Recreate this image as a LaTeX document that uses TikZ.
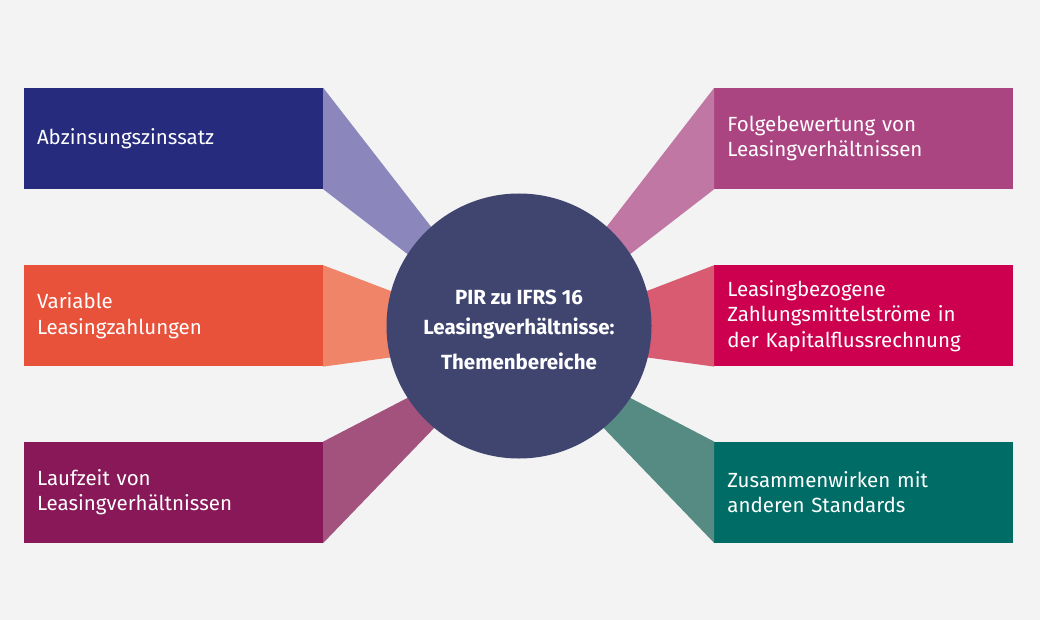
\documentclass[tikz,border=0pt]{standalone}
\usepackage{fontspec}
\setsansfont{Fira Sans}
\renewcommand{\familydefault}{\sfdefault}
\usepackage{xcolor}
\usepackage{tikz}
\usetikzlibrary{calc, positioning}

\definecolor{bggray}{RGB}{243,243,243}
\definecolor{hubblue}{RGB}{64,69,112}
\definecolor{abzdark}{RGB}{38,43,126}
\definecolor{abzlight}{RGB}{139,135,189}
\definecolor{vardark}{RGB}{232,81,58}
\definecolor{varlight}{RGB}{240,132,104}
\definecolor{laufdark}{RGB}{136,24,88}
\definecolor{lauflight}{RGB}{163,82,125}
\definecolor{folgedark}{RGB}{171,69,130}
\definecolor{folgelight}{RGB}{192,119,164}
\definecolor{zmsdark}{RGB}{204,0,78}
\definecolor{zmslight}{RGB}{217,91,114}
\definecolor{zusdark}{RGB}{0,108,102}
\definecolor{zuslight}{RGB}{86,139,131}

\begin{document}
\begin{tikzpicture}[x=1pt, y=-1pt,
  topic/.style={rectangle, minimum width=299pt, minimum height=101pt,
    text width=273pt, inner xsep=13pt, inner ysep=0pt, align=left,
    text=white, font=\fontsize{20.5}{25.5}\selectfont},
  hub/.style={circle, fill=hubblue, minimum size=265pt, inner sep=0pt},
  hubtext/.style={align=center, text=white,
    font=\bfseries\fontsize{20.5}{30}\selectfont}]

% Background
\fill[bggray] (0,0) rectangle (1040,620);
\useasboundingbox (0,0) rectangle (1040,620);

% Left boxes
\node[topic, fill=abzdark] (abz) at (173.5,138.5) {Abzinsungszinssatz};
\node[topic, fill=vardark, below=76pt of abz] (var) {Variable\\Leasingzahlungen};
\node[topic, fill=laufdark, below=75pt of var] (lauf) {Laufzeit von\\Leasingverhältnissen};

% Right boxes
\node[topic, fill=folgedark, right=391pt of abz] (folge) {Folgebewertung von\\Leasingverhältnissen};
\node[topic, fill=zmsdark, right=391pt of var] (zms) {Leasingbezogene\\Zahlungsmittelströme in\\der Kapitalflussrechnung};
\node[topic, fill=zusdark, right=391pt of lauf] (zus) {Zusammenwirken mit\\anderen Standards};

% Bands towards the centre
\coordinate (focus) at (519,340);
\fill[abzlight] (abz.north east) -- (abz.south east) -- (focus) -- cycle;
\fill[varlight] (var.north east) -- (var.south east) -- (focus) -- cycle;
\fill[lauflight] (lauf.north east) -- (lauf.south east) -- (focus) -- cycle;
\fill[folgelight] (folge.north west) -- (folge.south west) -- (focus) -- cycle;
\fill[zmslight] (zms.north west) -- (zms.south west) -- (focus) -- cycle;
\fill[zuslight] (zus.north west) -- (zus.south west) -- (focus) -- cycle;

% Centre circle
\node[hub] (pir) at (519,326) {};
\node[hubtext] (pirlabel) at ($(pir.center)+(0,4)$) {PIR zu IFRS 16\\Leasingverhältnisse:\\[5pt]Themenbereiche};

\end{tikzpicture}
\end{document}
